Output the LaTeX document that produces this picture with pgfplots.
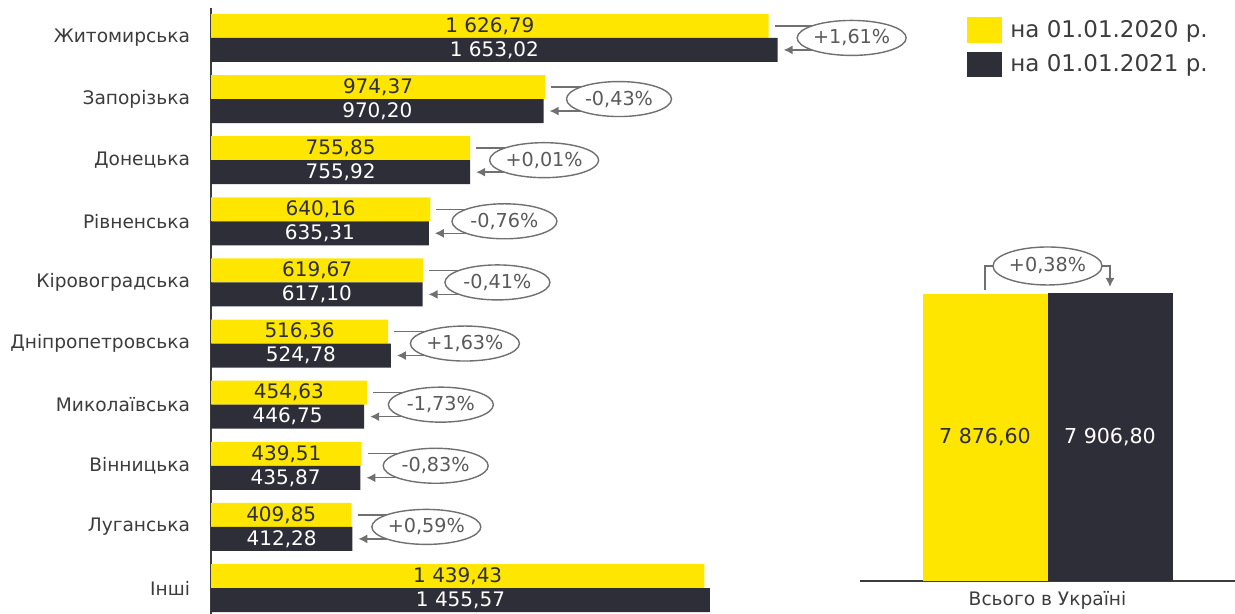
\documentclass[border=0pt]{standalone}
\usepackage{fontspec}
\setmainfont{DejaVu Sans}
\usepackage{pgfplots}
\pgfplotsset{compat=1.18}
\usepackage{pgfplotstable}
\usetikzlibrary{arrows.meta,shapes.geometric}
\definecolor{eyy}{HTML}{FFE600}
\definecolor{eyd}{HTML}{2E2E38}
\definecolor{lbl}{HTML}{3C3C3C}
\definecolor{ann}{HTML}{707070}
\definecolor{anntext}{HTML}{5A5A5A}

\pgfplotstableread{
idx v20 v21
9 1626.79 1653.02
8 974.37 970.20
7 755.85 755.92
6 640.16 635.31
5 619.67 617.10
4 516.36 524.78
3 454.63 446.75
2 439.51 435.87
1 409.85 412.28
0 1439.43 1455.57
}\regions

\pgfplotstableread{
x v20 v21
0 7876.60 7906.80
}\total

\pgfplotsset{/pgf/number format/.cd, fixed, fixed zerofill, precision=2, use comma, 1000 sep={\ }, assume math mode=true}

\begin{document}
\begin{tikzpicture}
\path[use as bounding box] (0,0) rectangle (617.5pt,307pt);
\begin{axis}[
  at={(105.5pt,0pt)}, anchor=south west,
  x=0.1714pt, y=30.56pt,
  xmin=0, xmax=1800, ymin=-0.425, ymax=9.49,
  axis x line=none, axis y line*=left,
  y axis line style={draw=lbl, line width=0.6pt, -},
  ytick={0,...,9},
  yticklabels={Інші, Луганська, Вінницька, Миколаївська, Дніпропетровська, Кіровоградська, Рівненська, Донецька, Запорізька, Житомирська},
  major tick length=0pt,
  yticklabel style={font=\fontsize{9.3}{11}\selectfont, text=lbl, xshift=-7pt},
  clip=false,
]
\addplot[xbar, bar width=12pt, bar shift=6pt, fill=eyy, draw=none] table[x=v20,y=idx]{\regions};
\addplot[xbar, bar width=12pt, bar shift=-6pt, fill=eyd, draw=none] table[x=v21,y=idx]{\regions};
\addplot[draw=none, nodes near coords, point meta=\thisrow{v20},
  every node near coord/.style={anchor=center, yshift=6pt, text=eyd, font=\fontsize{10}{12}\selectfont}]
  table[x expr=\thisrow{v20}/2, y=idx]{\regions};
\addplot[draw=none, nodes near coords, point meta=\thisrow{v21},
  every node near coord/.style={anchor=center, yshift=-6pt, text=white, font=\fontsize{10}{12}\selectfont}]
  table[x expr=\thisrow{v21}/2, y=idx]{\regions};
\foreach \yy/\a/\b/\p in {9/1626.79/1653.02/{+1,61}, 8/974.37/970.20/{-0,43}, 7/755.85/755.92/{+0,01}, 6/640.16/635.31/{-0,76}, 5/619.67/617.10/{-0,41}, 4/516.36/524.78/{+1,63}, 3/454.63/446.75/{-1,73}, 2/439.51/435.87/{-0,83}, 1/409.85/412.28/{+0,59}}{
  \pgfmathsetmacro\m{max(\a,\b)}
  \edef\tmp{
    \noexpand\draw[ann, line width=0.7pt] ([xshift=3pt,yshift=6pt]axis cs:\a,\yy) -- ([xshift=37pt,yshift=6pt]axis cs:\m,\yy);
    \noexpand\draw[ann, line width=0.7pt, -{Latex[length=4.5pt,width=4.5pt]}] ([xshift=37pt,yshift=-6pt]axis cs:\m,\yy) -- ([xshift=3pt,yshift=-6pt]axis cs:\b,\yy);
    \noexpand\node[ellipse, draw=ann, line width=0.7pt, fill=white, minimum width=52.5pt, minimum height=17.5pt, inner sep=0pt, text=anntext, font=\noexpand\fontsize{9.6}{10}\noexpand\selectfont] at ([xshift=37pt]axis cs:\m,\yy) {\p\noexpand\%};
  }
  \tmp
}
\end{axis}

\begin{axis}[
  at={(430pt,16.5pt)}, anchor=south west,
  width=187.5pt, height=165.5pt, scale only axis,
  xmin=-1, xmax=1, ymin=0, ymax=9087,
  axis y line=none, axis x line*=bottom,
  x axis line style={draw=lbl, line width=0.6pt, -},
  xtick={0}, xticklabels={Всього в Україні}, major tick length=0pt,
  xticklabel style={font=\fontsize{9.3}{11}\selectfont, text=lbl, anchor=center, yshift=-9.5pt},
  clip=false,
]
\addplot[ybar, bar width=62.5pt, bar shift=-31.25pt, fill=eyy, draw=none] table[x=x,y=v20]{\total};
\addplot[ybar, bar width=62.5pt, bar shift=31.25pt, fill=eyd, draw=none] table[x=x,y=v21]{\total};
\addplot[draw=none, nodes near coords, point meta=\thisrow{v20},
  every node near coord/.style={anchor=center, xshift=-31.25pt, text=eyd, font=\fontsize{10.3}{12}\selectfont}]
  table[x=x, y expr=\thisrow{v20}/2]{\total};
\addplot[draw=none, nodes near coords, point meta=\thisrow{v21},
  every node near coord/.style={anchor=center, xshift=31.25pt, text=white, font=\fontsize{10.3}{12}\selectfont}]
  table[x=x, y expr=\thisrow{v21}/2]{\total};
\draw[ann, line width=0.7pt] ([xshift=-31.25pt,yshift=2pt]axis cs:0,7876.6) |- ([yshift=13.5pt]axis cs:0,7906.8);
\draw[ann, line width=0.7pt, -{Latex[length=4.5pt,width=4.5pt]}] ([yshift=13.5pt]axis cs:0,7906.8) -| ([xshift=31.25pt,yshift=3pt]axis cs:0,7906.8);
\node[ellipse, draw=ann, line width=0.7pt, fill=white, minimum width=52pt, minimum height=19pt, inner sep=0pt, text=anntext, font=\fontsize{9.6}{10}\selectfont] at ([yshift=13.5pt]axis cs:0,7906.8) {+0,38\%};
\end{axis}

\fill[eyy] (483.5pt,298.5pt) rectangle (501pt,285.5pt);
\fill[eyd] (483.5pt,281pt) rectangle (501pt,268.5pt);
\node[anchor=west, inner sep=0pt, text=lbl, font=\fontsize{11.5}{13}\selectfont] at (505pt,291.5pt) {на 01.01.2020 р.};
\node[anchor=west, inner sep=0pt, text=lbl, font=\fontsize{11.5}{13}\selectfont] at (505pt,274.25pt) {на 01.01.2021 р.};
\end{tikzpicture}
\end{document}
